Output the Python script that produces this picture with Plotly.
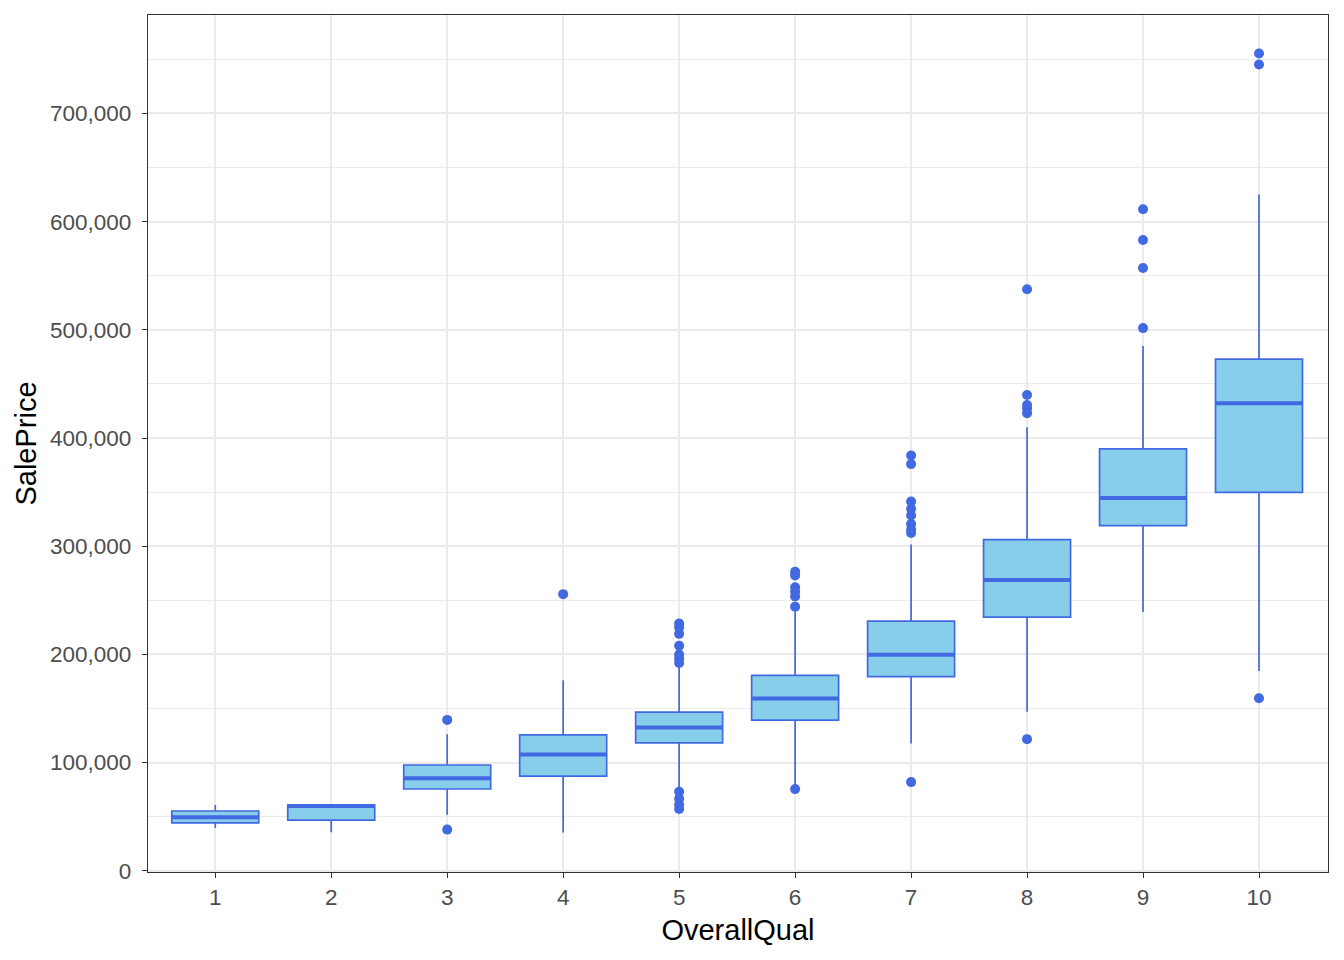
import plotly.graph_objects as go

# ---- data ----
quality = [1, 2, 3, 4, 5, 6, 7, 8, 9, 10]
q1 = [44300, 46800, 75600, 87600, 118300, 139200, 179500, 234500, 319000, 349700]
median = [49500, 60000, 85500, 107600, 132500, 159200, 199800, 268900, 344500, 432100]
q3 = [55300, 60800, 97800, 125700, 146600, 180700, 230800, 306100, 390000, 473000]
lower_whisker = [39600, 35700, 51900, 35300, 76000, 80000, 117700, 146900, 239100, 184700]
upper_whisker = [60900, 60800, 126300, 176100, 190000, 240000, 301500, 410000, 485000, 625100]

outlier_quality = [3, 3,
                   4,
                   5, 5, 5, 5, 5, 5, 5, 5, 5, 5, 5,
                   6, 6, 6, 6, 6, 6, 6,
                   7, 7, 7, 7, 7, 7, 7, 7, 7,
                   8, 8, 8, 8, 8, 8,
                   9, 9, 9, 9,
                   10, 10, 10]
outlier_price = [139500, 38100,
                 255700,
                 228500, 225000, 219000, 208000, 200000, 196000, 192000, 73000, 66500, 61000, 57200,
                 276500, 273000, 262000, 258000, 253500, 244000, 75500,
                 383800, 375900, 341400, 334700, 328500, 320600, 315300, 312300, 82000,
                 537500, 439800, 430600, 427500, 423000, 121700,
                 611400, 583000, 557200, 501600,
                 755400, 745300, 159500]

y_ticks = [0, 100000, 200000, 300000, 400000, 500000, 600000, 700000]
x_title = "OverallQual"
y_title = "SalePrice"

FILL = "#87CEEB"
LINE = "#4169E1"
BOX_WIDTH = 0.75
FONT = "Liberation Sans, Arial, sans-serif"

fig = go.Figure()

fig.add_trace(go.Box(
    x=quality, q1=q1, median=median, q3=q3,
    lowerfence=lower_whisker, upperfence=upper_whisker,
    width=BOX_WIDTH, whiskerwidth=0, boxpoints=False,
    fillcolor=FILL, line=dict(color=LINE, width=1.7),
    showlegend=False, hoverinfo="skip",
))

# thicker median bars (ggplot "fatten")
mx, my = [], []
for q, m in zip(quality, median):
    mx += [q - BOX_WIDTH / 2, q + BOX_WIDTH / 2, None]
    my += [m, m, None]
fig.add_trace(go.Scatter(
    x=mx, y=my, mode="lines", line=dict(color=LINE, width=4),
    showlegend=False, hoverinfo="skip",
))

fig.add_trace(go.Scatter(
    x=outlier_quality, y=outlier_price, mode="markers",
    marker=dict(color=LINE, size=10),
    showlegend=False,
))

axis_common = dict(
    showline=True, mirror=True, linecolor="#333333", linewidth=1.3,
    ticks="outside", ticklen=5, tickwidth=1.3, tickcolor="#333333",
    gridcolor="#EBEBEB", gridwidth=1.6, zeroline=False,
    tickfont=dict(family=FONT, size=22.5, color="#4D4D4D"),
)

fig.update_xaxes(
    range=[0.42, 10.595], tickvals=quality, ticktext=[str(q) for q in quality],
    title=dict(text=x_title, font=dict(family=FONT, size=29, color="black"), standoff=10),
    **axis_common,
)
fig.update_yaxes(
    range=[-1100, 791000], tickvals=y_ticks, tickformat=",d",
    ticklabelstandoff=6,
    minor=dict(dtick=50000, tick0=0, showgrid=True, gridcolor="#EBEBEB", gridwidth=0.9, ticks=""),
    title=dict(text=y_title, font=dict(family=FONT, size=29, color="black"), standoff=4),
    **axis_common,
)

# the page adds an 8px body margin, so the figure is 8px smaller and shifted
fig.update_layout(
    width=1336, height=952,
    margin=dict(l=140, r=16, t=7, b=88),
    plot_bgcolor="white", paper_bgcolor="white",
    font=dict(family=FONT),
)

fig.write_html("out.html")
